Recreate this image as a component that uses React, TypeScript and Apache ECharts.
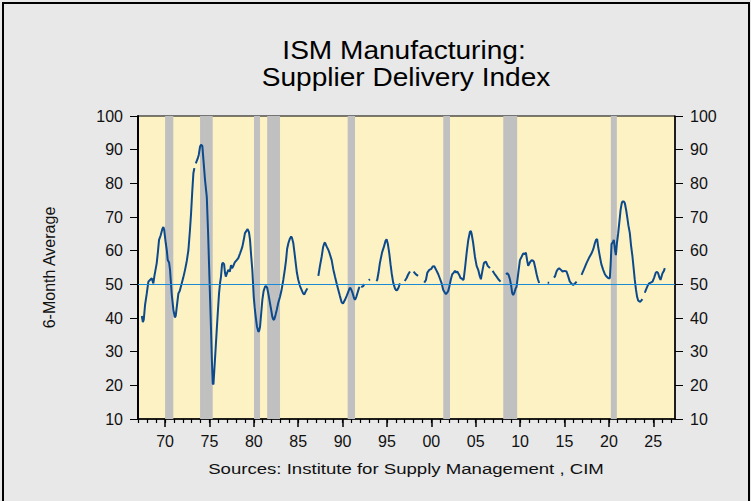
import React, { useEffect, useRef } from "react";
import * as echarts from "echarts";

// Title / notes
const TITLE_LINE_1 = "ISM Manufacturing:";
const TITLE_LINE_2 = "Supplier Delivery Index";
const Y_NAME = "6-Month Average";
const SOURCE = "Sources: Institute for Supply Management , CIM";

// Axis settings / tick labels
const X_MIN = 1966.95;
const X_MAX = 2027.45;
const X_MAJOR = [1970, 1975, 1980, 1985, 1990, 1995, 2000, 2005, 2010, 2015, 2020, 2025];
const X_MINOR = Array.from({ length: 61 }, (_, i) => 1967 + i);
const Y_MIN = 10;
const Y_MAX = 100;
const Y_STEP = 10;
const REF_LEVEL = 50;

// Recession periods (fractional years)
const RECESSIONS: [number, number][] = [
  [1970.0, 1970.93],
  [1973.94, 1975.37],
  [1980.02, 1980.7],
  [1981.5, 1982.95],
  [1990.57, 1991.4],
  [2001.34, 2002.1],
  [2008.1, 2009.67],
  [2020.22, 2020.9],
];

// Supplier delivery index, 6-month average: [year, value] (null = gap)
const SD_1967_1979: [number, number | null][] = [
  [1967.38, 40.6], [1967.5, 38.8], [1967.6, 39.5], [1967.75, 44], [1967.94, 47.3],
  [1968.12, 50.8], [1968.3, 51.3], [1968.5, 51.8], [1968.6, 50.9], [1968.68, 50.3],
  [1968.8, 52.5], [1969.06, 56.3], [1969.2, 59.8], [1969.32, 63.2], [1969.5, 64.5],
  [1969.7, 66.5], [1969.81, 67.0], [1969.9, 66.2], [1970.08, 62.2], [1970.2, 60],
  [1970.3, 57.2], [1970.45, 56.5], [1970.56, 54.3], [1970.75, 47], [1970.94, 42.4],
  [1971.1, 40.2], [1971.2, 40.6], [1971.35, 44], [1971.5, 47.3], [1971.65, 48],
  [1971.88, 50.3], [1972.05, 52], [1972.25, 54.3], [1972.45, 57], [1972.63, 60.2],
  [1972.8, 66], [1972.93, 71.1], [1973.05, 77], [1973.19, 83.0], [1973.3, 84.5],
  [1973.38, null], [1973.46, 85.9], [1973.68, 87.4], [1973.8, 88.5], [1973.94, 90.9],
  [1974.05, 91.5], [1974.2, 91.1], [1974.35, 86], [1974.5, 81.0], [1974.7, 76.0],
  [1974.85, 65], [1974.95, 56.3], [1975.08, 45], [1975.18, 36.4], [1975.28, 27],
  [1975.37, 20.6], [1975.45, 20.3], [1975.55, 24.6], [1975.7, 31], [1975.82, 36.4],
  [1975.95, 42], [1976.08, 47.3], [1976.2, 50.5], [1976.3, 52.3], [1976.42, 56],
  [1976.5, 56.4], [1976.65, 56], [1976.75, 53.5], [1976.84, 52.3], [1977.0, 53.5],
  [1977.13, 54.3], [1977.3, 53.8], [1977.43, 55.7], [1977.55, 54.8], [1977.68, 55.4],
  [1977.85, 56.5], [1978.07, 57.2], [1978.25, 57.8], [1978.45, 59.2], [1978.6, 60.3],
  [1978.71, 61.2], [1978.85, 63], [1979.0, 65.2], [1979.15, 65.8], [1979.3, 66.4],
  [1979.45, 65.5], [1979.57, 63.2], [1979.7, 58.5], [1979.83, 54.3],
];

const SD_1980_1992: [number, number | null][] = [
  [1979.99, 46.3], [1980.1, 43], [1980.21, 40.4], [1980.35, 37.5], [1980.51, 35.9],
  [1980.6, 36.2], [1980.7, 37.4], [1980.85, 42], [1980.96, 45.4], [1981.1, 48],
  [1981.26, 49.3], [1981.38, 49.5], [1981.5, 49], [1981.65, 47], [1981.82, 44.4],
  [1981.95, 42.5], [1982.08, 40.4], [1982.2, 39.5], [1982.31, 39.6], [1982.45, 41],
  [1982.58, 42.4], [1982.75, 44.5], [1982.95, 46.3], [1983.1, 48], [1983.32, 51.3],
  [1983.5, 54.5], [1983.63, 57.2], [1983.75, 60.5], [1983.89, 62.2], [1984.05, 63.5],
  [1984.2, 64.2], [1984.3, 63.8], [1984.45, 62.2], [1984.6, 59], [1984.72, 56.3],
  [1984.85, 53.5], [1985.01, 51.3], [1985.2, 49.5], [1985.39, 48.3], [1985.55, 47.3],
  [1985.7, 47.0], [1985.77, 47.5], [1985.9, 48.2], [1986.03, 48.8], [1986.6, null],
  [1987.27, 52.5], [1987.45, 55.5], [1987.64, 58.2], [1987.8, 61], [1987.94, 62.2],
  [1988.02, 62.4], [1988.21, 61.2], [1988.4, 60.2], [1988.5, 59.5], [1988.77, 57.2],
  [1988.95, 54.5], [1989.14, 52.3], [1989.35, 50], [1989.52, 48.3], [1989.7, 46.5],
  [1989.9, 44.6], [1990.05, 44.3], [1990.27, 45.4], [1990.45, 46.5], [1990.65, 47.8],
  [1990.8, 49], [1990.91, 48.8], [1991.05, 48], [1991.14, 47.3], [1991.3, 45.8],
  [1991.4, 45.4], [1991.55, 46.3], [1991.66, 47.3], [1991.8, 48.5], [1991.9, 49.3],
  [1992.0, null], [1992.1, 49.2], [1992.33, 49.5], [1992.45, 50.1], [1992.7, null],
];

const SD_1993_2007: [number, number | null][] = [
  [1992.95, 51.2], [1993.08, 51.5], [1993.4, null], [1993.8, 51.0], [1993.9, 51.3],
  [1994.05, 53.5], [1994.2, 56.3], [1994.45, 59.5], [1994.66, 61.2], [1994.85, 63],
  [1994.96, 63.4], [1995.1, 62], [1995.26, 59.2], [1995.4, 56], [1995.53, 53.3],
  [1995.7, 50.5], [1995.9, 48.8], [1996.05, 48.2], [1996.16, 48.3], [1996.3, 49],
  [1996.46, 50.3], [1996.7, null], [1997.0, 51], [1997.2, 51.8], [1997.4, 53],
  [1997.59, 53.8], [1997.8, null], [1998.0, 53.8], [1998.15, 53.3], [1998.35, 52.8],
  [1998.5, 52.5], [1998.9, null], [1999.2, 50.5], [1999.39, 51.3], [1999.55, 53.5],
  [1999.77, 54.3], [2000.0, 54.6], [2000.15, 55.3], [2000.33, 55.4], [2000.5, 54.5],
  [2000.78, 53.0], [2000.95, 51.8], [2001.16, 50.3], [2001.34, 48.3], [2001.53, 47.5],
  [2001.64, 47.1], [2001.8, 47.6], [2001.9, 48], [2002.02, 49.3], [2002.2, 51.5],
  [2002.35, 53], [2002.47, 53.3], [2002.66, 54], [2002.8, 53.5], [2002.92, 53.8],
  [2003.14, 52.8], [2003.3, 51.8], [2003.41, 51.8], [2003.55, 51.3], [2003.64, 51.5],
  [2003.8, 55], [2003.97, 59.2], [2004.15, 63], [2004.35, 65.6], [2004.45, 65.8],
  [2004.53, 65.1], [2004.7, 62.5], [2004.91, 58.2], [2005.1, 55.5], [2005.28, 54.3],
  [2005.45, 52.5], [2005.58, 51.5], [2005.75, 54], [2005.92, 56.3], [2006.05, 56.6],
  [2006.15, 56.7], [2006.35, 55.5], [2006.6, 54.8], [2006.75, null], [2006.9, 54.0],
  [2007.1, 53.2], [2007.35, 52.3], [2007.55, 51.5], [2007.8, 50.8], [2008.1, null],
];

const SD_2008_2026: [number, number | null][] = [
  [2008.4, 53], [2008.55, 53.3], [2008.7, 52.8], [2008.85, 51.5], [2009.0, 49.5],
  [2009.1, 47.5], [2009.22, 46.8], [2009.35, 47.5], [2009.5, 48.8], [2009.6, 49.3],
  [2009.8, 53.5], [2009.98, 57.2], [2010.17, 58.2], [2010.35, 59.2], [2010.5, 59.0],
  [2010.65, 59.4], [2010.8, 57], [2010.91, 55.5], [2011.1, 56.5], [2011.3, 57.2],
  [2011.45, 57.0], [2011.55, 56.7], [2011.7, 55], [2011.86, 53], [2012.0, 51.5],
  [2012.15, 50.4], [2012.6, null], [2013.1, 50.5], [2013.28, 50.5], [2013.55, null],
  [2013.8, 52], [2013.92, 52.3], [2014.1, 53.8], [2014.25, 54.5], [2014.4, 54.8],
  [2014.6, 54.3], [2014.78, 53.8], [2015.0, 54], [2015.23, 53.8], [2015.4, 52.5],
  [2015.6, 50.8], [2015.8, 50.2], [2015.98, 49.8], [2016.2, 50.3], [2016.36, 50.8],
  [2016.6, null], [2016.92, 52.8], [2017.2, 54.5], [2017.48, 56.3], [2017.75, 57.8],
  [2018.05, 59.2], [2018.25, 60.5], [2018.42, 62.2], [2018.55, 63.2], [2018.68, 63.4],
  [2018.8, 61], [2018.99, 58.2], [2019.15, 56], [2019.36, 54.3], [2019.55, 53],
  [2019.74, 52.3], [2019.95, 51.8], [2020.11, 51.8], [2020.2, 56], [2020.3, 62.0],
  [2020.45, 62.5], [2020.56, 63.2], [2020.7, 60], [2020.79, 58.7], [2020.9, 62],
  [2021.05, 65.2], [2021.2, 69], [2021.32, 72.1], [2021.45, 74.1], [2021.54, 74.6],
  [2021.69, 74.6], [2021.8, 74.1], [2021.95, 72], [2022.06, 70.1], [2022.2, 67.5],
  [2022.36, 65.2], [2022.5, 61.5], [2022.66, 58.2], [2022.8, 54.5], [2022.92, 51.3],
  [2023.05, 48.5], [2023.18, 46.3], [2023.3, 45.2], [2023.48, 44.8], [2023.6, 45.0],
  [2023.78, 45.6], [2023.9, null], [2024.05, 47.5], [2024.16, 48.3], [2024.35, 49.5],
  [2024.54, 50.3], [2024.7, 50.5], [2024.92, 50.8], [2025.1, 52], [2025.29, 53.5],
  [2025.42, 53.7], [2025.55, 53.3], [2025.7, 52], [2025.82, 51.3], [2025.95, 52.5],
  [2026.04, 53.3], [2026.2, 54], [2026.3, 54.8],
];

const FONT = "'Liberation Sans', Arial, Helvetica, sans-serif";

export default function App() {
  const ref = useRef<HTMLDivElement>(null);

  useEffect(() => {
    document.body.style.margin = "0";
    if (!ref.current) return;
    const chart = echarts.init(ref.current, undefined, { renderer: "svg" });

    const series = [...SD_1967_1979, ...SD_1980_1992, ...SD_1993_2007, ...SD_2008_2026].map(
      ([x, v]) => [x, v === null ? "-" : v]
    );

    const yearLabel = (v: number) => String(Math.round(v) % 100).padStart(2, "0");

    chart.setOption({
      animation: false,
      backgroundColor: "#e8e8e8",
      grid: {
        left: 138,
        right: 76,
        top: 116,
        bottom: 82,
        show: true,
        backgroundColor: "#fdf2c4",
        borderColor: "#000",
        borderWidth: 1,
      },
      xAxis: [
        {
          type: "value",
          min: X_MIN,
          max: X_MAX,
          position: "bottom",
          splitLine: { show: false },
          axisLine: { show: true, onZero: false, lineStyle: { color: "#000", width: 1.5 } },
          axisTick: { show: true, customValues: X_MAJOR, length: 8, lineStyle: { color: "#000", width: 1.5 } },
          axisLabel: {
            show: true,
            customValues: X_MAJOR,
            formatter: yearLabel,
            color: "#111",
            fontSize: 16,
            fontFamily: FONT,
            margin: 14,
          },
        },
        {
          type: "value",
          min: X_MIN,
          max: X_MAX,
          position: "bottom",
          gridIndex: 0,
          splitLine: { show: false },
          axisLine: { show: false, onZero: false },
          axisTick: { show: true, customValues: X_MINOR, length: 4, lineStyle: { color: "#000", width: 1.2 } },
          axisLabel: { show: false },
        },
      ],
      yAxis: [
        {
          type: "value",
          position: "left",
          min: Y_MIN,
          max: Y_MAX,
          interval: Y_STEP,
          name: Y_NAME,
          nameLocation: "middle",
          nameRotate: 90,
          nameGap: 81,
          nameTextStyle: { color: "#111", fontSize: 16, fontFamily: FONT },
          splitLine: { show: false },
          axisLine: { show: true, onZero: false, lineStyle: { color: "#000", width: 2 } },
          axisTick: { show: true, length: 8, lineStyle: { color: "#000", width: 1 } },
          axisLabel: { color: "#111", fontSize: 16, fontFamily: FONT, margin: 15 },
        },
        {
          type: "value",
          position: "right",
          min: Y_MIN,
          max: Y_MAX,
          interval: Y_STEP,
          splitLine: { show: false },
          axisLine: { show: true, onZero: false, lineStyle: { color: "#000", width: 1.5 } },
          axisTick: { show: true, length: 8, lineStyle: { color: "#000", width: 1 } },
          axisLabel: { color: "#111", fontSize: 16, fontFamily: FONT, margin: 15 },
        },
      ],
      series: [
        {
          type: "line",
          xAxisIndex: 0,
          yAxisIndex: 0,
          data: series,
          showSymbol: false,
          symbol: "none",
          connectNulls: false,
          lineStyle: { color: "#0c4a8c", width: 2 },
          silent: true,
          z: 3,
          markArea: {
            silent: true,
            itemStyle: { color: "#c0c0c0", opacity: 1 },
            data: RECESSIONS.map(([a, b]) => [{ xAxis: a }, { xAxis: b }]),
          },
          markLine: {
            silent: true,
            symbol: "none",
            label: { show: false },
            lineStyle: { color: "#1a8ad4", width: 1.2, type: "solid" },
            data: [{ yAxis: REF_LEVEL }],
          },
        },
      ],
      graphic: [
        {
          type: "rect",
          shape: { x: 3, y: 3, width: 746, height: 520 },
          style: { fill: "none", stroke: "#000", lineWidth: 2 },
          silent: true,
        },
        {
          type: "text",
          x: 404,
          y: 50,
          scaleX: 1.08,
          style: {
            text: TITLE_LINE_1,
            fill: "#000",
            font: `26px ${FONT}`,
            textAlign: "center",
            textVerticalAlign: "middle",
          },
        },
        {
          type: "text",
          x: 406,
          y: 77,
          scaleX: 1.08,
          style: {
            text: TITLE_LINE_2,
            fill: "#000",
            font: `26px ${FONT}`,
            textAlign: "center",
            textVerticalAlign: "middle",
          },
        },
        {
          type: "text",
          x: 406,
          y: 469,
          scaleX: 1.2,
          style: {
            text: SOURCE,
            fill: "#111",
            font: `15.5px ${FONT}`,
            textAlign: "center",
            textVerticalAlign: "middle",
          },
        },
      ],
    });

    return () => chart.dispose();
  }, []);

  return (
    <div
      ref={ref}
      style={{ position: "fixed", left: 0, top: 0, width: 751, height: 501 }}
    />
  );
}
